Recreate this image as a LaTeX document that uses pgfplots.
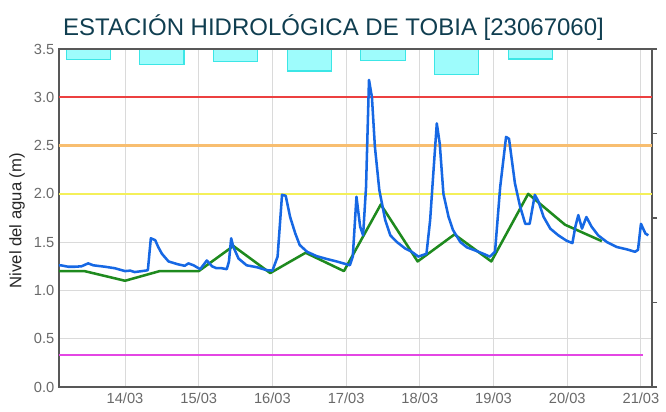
\documentclass[border=0pt]{standalone}
\usepackage{pgfplots}
\pgfplotsset{compat=1.18}
\usepackage{fontspec}
\setmainfont{Liberation Sans}
\definecolor{titlec}{RGB}{16,62,80}
\definecolor{blueL}{RGB}{22,104,228}
\definecolor{greenL}{RGB}{30,138,30}
\definecolor{redL}{RGB}{236,64,64}
\definecolor{orangeL}{RGB}{248,190,112}
\definecolor{yellowL}{RGB}{244,240,90}
\definecolor{magL}{RGB}{228,70,228}
\definecolor{gridc}{RGB}{218,218,218}
\definecolor{framec}{RGB}{88,88,88}
\definecolor{tickc}{RGB}{105,105,105}
\definecolor{barfill}{RGB}{158,252,252}
\definecolor{barline}{RGB}{60,230,230}
\begin{document}
\begin{tikzpicture}
% secondary axis (precipitation bars, reversed)
\begin{axis}[
  name=ax2,
  scale only axis, width=444.75pt, height=253.5pt,
  xmin=13.104, xmax=21.15,
  ymin=0, ymax=20, y dir=reverse,
  axis x line=none, axis y line*=right,
  ytick={0,5,10,15,20}, yticklabels={},
  tick align=outside, major tick length=3.75pt,
  every tick/.style={framec, line width=1pt},
  axis line style={framec, line width=1.6pt, -},
]
\addplot[ybar, bar width=0.6, fill=barfill, draw=barline, line width=0.8pt] coordinates {
(13.50,0.61) (14.50,0.89) (15.50,0.75) (16.50,1.30) (17.50,0.69) (18.50,1.52) (19.50,0.59)
};
\end{axis}
\begin{axis}[
  name=ax,
  scale only axis, width=444.75pt, height=253.5pt,
  xmin=13.104, xmax=21.15,
  ymin=0, ymax=3.5,
  xtick={14,15,16,17,18,19,20,21},
  xticklabels={14/03,15/03,16/03,17/03,18/03,19/03,20/03,21/03},
  ytick={0,0.5,1,1.5,2,2.5,3,3.5},
  yticklabel style={/pgf/number format/.cd, fixed, fixed zerofill, precision=1, assume math mode=true},
  ticklabel style={font=\fontsize{11}{13}\selectfont, text=tickc},
  xticklabel style={yshift=-1pt},
  major tick length=0pt,
  ytick pos=left, xtick pos=bottom,
  grid=major,
  major grid style={gridc, line width=0.75pt},
  axis line style={framec, line width=1.6pt},
  clip=false,
]
\addplot[magL, line width=1.2pt] coordinates {(13.104,0.33) (21.03,0.33)};
\addplot[yellowL, line width=1.5pt] coordinates {(13.104,2.0) (21.15,2.0)};
\addplot[orangeL, line width=1.7pt] coordinates {(13.104,2.5) (21.15,2.5)};
\addplot[redL, line width=1.3pt] coordinates {(13.104,3.0) (21.15,3.0)};
\addplot[greenL, line width=1.9pt, line join=round] coordinates {
(13.104,1.20) (13.45,1.20) (14.0,1.10) (14.47,1.20) (15.0,1.20) (15.47,1.46)
(15.97,1.18) (16.45,1.39) (16.97,1.20) (17.47,1.89) (17.97,1.30) (18.47,1.58)
(18.97,1.30) (19.47,2.00) (19.97,1.68) (20.47,1.51)
};
\addplot[blueL, line width=1.9pt, line join=round] coordinates {
(13.104,1.26) (13.13,1.26) (13.23,1.245) (13.32,1.245) (13.41,1.25) (13.50,1.28)
(13.57,1.26) (13.73,1.245) (13.86,1.23) (14.00,1.20) (14.07,1.205) (14.13,1.19)
(14.28,1.205) (14.31,1.21) (14.35,1.54) (14.41,1.52) (14.45,1.45) (14.50,1.38)
(14.59,1.30) (14.72,1.27) (14.81,1.255) (14.86,1.28) (14.93,1.26) (15.02,1.22)
(15.11,1.31) (15.18,1.25) (15.24,1.23) (15.31,1.23) (15.38,1.22) (15.41,1.30)
(15.44,1.54) (15.47,1.45) (15.54,1.33) (15.65,1.26) (15.79,1.24) (15.92,1.21)
(16.00,1.205) (16.07,1.35) (16.13,1.99) (16.18,1.98) (16.24,1.76) (16.31,1.59)
(16.37,1.47) (16.47,1.40) (16.60,1.355) (16.74,1.325) (16.87,1.30) (17.01,1.27)
(17.05,1.26) (17.09,1.35) (17.14,1.97) (17.19,1.66) (17.23,1.57) (17.27,2.07)
(17.31,3.18) (17.35,3.00) (17.39,2.49) (17.45,2.04) (17.53,1.73) (17.60,1.57)
(17.69,1.50) (17.80,1.435) (17.89,1.40) (17.98,1.35) (18.09,1.38) (18.14,1.73)
(18.18,2.18) (18.23,2.73) (18.27,2.52) (18.32,2.00) (18.39,1.76) (18.45,1.625)
(18.55,1.50) (18.64,1.445) (18.73,1.42) (18.86,1.38) (18.95,1.35) (19.02,1.40)
(19.09,2.07) (19.17,2.59) (19.21,2.57) (19.29,2.11) (19.36,1.87) (19.43,1.69)
(19.49,1.69) (19.56,1.99) (19.61,1.92) (19.68,1.76) (19.77,1.64) (19.88,1.57)
(19.99,1.515) (20.07,1.49) (20.11,1.66) (20.15,1.78) (20.20,1.64) (20.26,1.76)
(20.33,1.66) (20.42,1.57) (20.54,1.50) (20.67,1.45) (20.81,1.425) (20.92,1.40)
(20.96,1.42) (21.00,1.69) (21.06,1.59) (21.10,1.57)
};
\end{axis}
\node[rotate=90, font=\fontsize{12.5}{14}\selectfont, text=black!85] at ([xshift=-31.5pt,yshift=-2pt]ax.west) {Nivel del agua (m)};
\node[anchor=base, font=\fontsize{18}{20}\selectfont, text=titlec] at ([xshift=-16.5pt,yshift=10pt]ax.north) {ESTACIÓN HIDROLÓGICA DE TOBIA [23067060]};
\pgfresetboundingbox
\path[use as bounding box] ([xshift=-44.25pt,yshift=-18.75pt]ax.south west) rectangle ([xshift=10.5pt,yshift=36.75pt]ax.north east);
\end{tikzpicture}
\end{document}
